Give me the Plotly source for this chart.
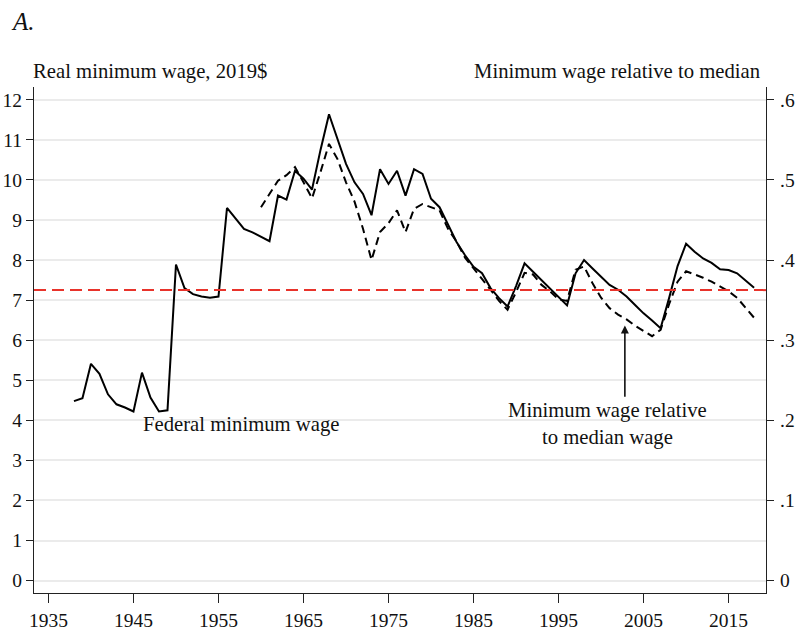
import plotly.graph_objects as go

# ---- data ----
fed_years = list(range(1938, 2019))
fed_real_wage = [4.48, 4.55, 5.41, 5.16, 4.65, 4.40, 4.32, 4.22, 5.19, 4.57,
                 4.22, 4.25, 7.89, 7.30, 7.15, 7.09, 7.06, 7.09, 9.30, 9.03,
                 8.78, 8.69, 8.58, 8.47, 9.61, 9.51, 10.23, 10.03, 9.76, 10.75,
                 11.64, 11.00, 10.40, 9.94, 9.65, 9.12, 10.27, 9.90, 10.23, 9.61,
                 10.27, 10.15, 9.53, 9.32, 8.87, 8.45, 8.12, 7.83, 7.67, 7.30,
                 7.05, 6.84, 7.35, 7.92, 7.71, 7.50, 7.30, 7.09, 6.87, 7.67,
                 8.00, 7.79, 7.59, 7.38, 7.26, 7.09, 6.88, 6.67, 6.49, 6.30,
                 7.05, 7.85, 8.41, 8.21, 8.04, 7.93, 7.77, 7.75, 7.67, 7.50,
                 7.31]

ratio_years = list(range(1960, 2019))
ratio_to_median = [0.466, 0.483, 0.499, 0.506, 0.516, 0.497, 0.477, 0.510, 0.545, 0.526,
                   0.497, 0.473, 0.439, 0.400, 0.435, 0.446, 0.462, 0.435, 0.464, 0.470,
                   0.466, 0.462, 0.439, 0.423, 0.403, 0.390, 0.377, 0.363, 0.349, 0.338,
                   0.360, 0.384, 0.382, 0.369, 0.361, 0.351, 0.349, 0.388, 0.392, 0.371,
                   0.353, 0.340, 0.332, 0.326, 0.318, 0.311, 0.305, 0.313, 0.345, 0.373,
                   0.386, 0.382, 0.378, 0.373, 0.367, 0.361, 0.353, 0.340, 0.328]

current_min_wage = 7.25

x_ticks = [1935, 1945, 1955, 1965, 1975, 1985, 1995, 2005, 2015]
left_ticks = list(range(0, 13))
right_ticks = [0, 0.1, 0.2, 0.3, 0.4, 0.5, 0.6]
right_ticktext = ["0", ".1", ".2", ".3", ".4", ".5", ".6"]

# ---- layout geometry ----
W, H = 800, 635
ML, MR, MT, MB = 34, 34, 87, 42
PW, PH = W - ML - MR, H - MT - MB
Y_RANGE = [-0.31, 12.32]

def px(x):
    return (x - ML) / PW

def py(y):
    return (H - MB - y) / PH

FONT = "Liberation Serif, Times New Roman, serif"
TXT = 20.7
TICK = 19.5

fig = go.Figure()
fig.add_trace(go.Scatter(x=fed_years, y=fed_real_wage, mode="lines",
                         line=dict(color="black", width=2), name="Federal minimum wage",
                         showlegend=False))
fig.add_trace(go.Scatter(x=ratio_years, y=ratio_to_median, mode="lines", yaxis="y2",
                         line=dict(color="black", width=2, dash="8px,5px"),
                         name="Minimum wage relative to median wage", showlegend=False))

fig.add_shape(type="line", xref="paper", x0=0, x1=1, yref="y",
              y0=current_min_wage, y1=current_min_wage,
              line=dict(color="#e8332b", width=2, dash="12px,6px"), layer="above")

annotations = [
    dict(text="<i>A.</i>", xref="paper", yref="paper", x=px(9), y=py(21),
         xanchor="left", yanchor="middle", showarrow=False,
         font=dict(family=FONT, size=25, color="#111")),
    dict(text="Real minimum wage, 2019$", xref="paper", yref="paper", x=px(31), y=py(72),
         xanchor="left", yanchor="middle", showarrow=False,
         font=dict(family=FONT, size=TXT, color="#111")),
    dict(text="Minimum wage relative to median", xref="paper", yref="paper", x=px(763), y=py(72),
         xanchor="right", yanchor="middle", showarrow=False,
         font=dict(family=FONT, size=TXT, color="#111")),
    dict(text="Federal minimum wage", xref="x", yref="y", x=1957.7, y=3.9,
         xanchor="center", yanchor="middle", showarrow=False,
         font=dict(family=FONT, size=TXT, color="#111")),
    dict(text="Minimum wage relative<br>to median wage", xref="x", yref="y", x=2000.7, y=3.9,
         xanchor="center", yanchor="middle", showarrow=False, align="center",
         font=dict(family=FONT, size=TXT, color="#111")),
    dict(text="", xref="x", yref="y", x=2002.8, y=6.37, axref="x", ayref="y",
         ax=2002.8, ay=4.55, showarrow=True, arrowhead=2, arrowsize=1,
         arrowwidth=1.6, arrowcolor="#111"),
]

fig.update_layout(
    width=W, height=H,
    margin=dict(l=ML, r=MR, t=MT, b=MB, autoexpand=False),
    paper_bgcolor="white", plot_bgcolor="white",
    font=dict(family=FONT, size=TICK, color="#111"),
    annotations=annotations,
    xaxis=dict(range=[1933.3, 2019.4], tickvals=x_ticks, ticks="outside", ticklen=9,
               tickwidth=1.3, tickcolor="#222", showline=True, linecolor="#222",
               linewidth=1.3, showgrid=False, zeroline=False, automargin=False,
               tickfont=dict(family=FONT, size=TICK)),
    yaxis=dict(range=Y_RANGE, tickvals=left_ticks, ticks="outside", ticklen=7,
               tickwidth=1.3, tickcolor="#222", showline=True, linecolor="#222",
               linewidth=1.3, showgrid=True, gridcolor="#ebebeb", gridwidth=1.5,
               zeroline=False, automargin=False, ticklabelstandoff=0,
               tickfont=dict(family=FONT, size=TICK)),
    yaxis2=dict(range=[Y_RANGE[0] / 20, Y_RANGE[1] / 20], overlaying="y", side="right",
                tickvals=right_ticks, ticktext=right_ticktext, ticks="outside", ticklen=7,
                tickwidth=1.3, tickcolor="#222", showline=True, linecolor="#222",
                linewidth=1.3, showgrid=False, zeroline=False, automargin=False,
                ticklabelstandoff=2, tickfont=dict(family=FONT, size=TICK)),
)

fig.write_html("out.html", config={"displayModeBar": False},
               post_script="document.body.style.margin='0';document.body.style.overflow='hidden';")
